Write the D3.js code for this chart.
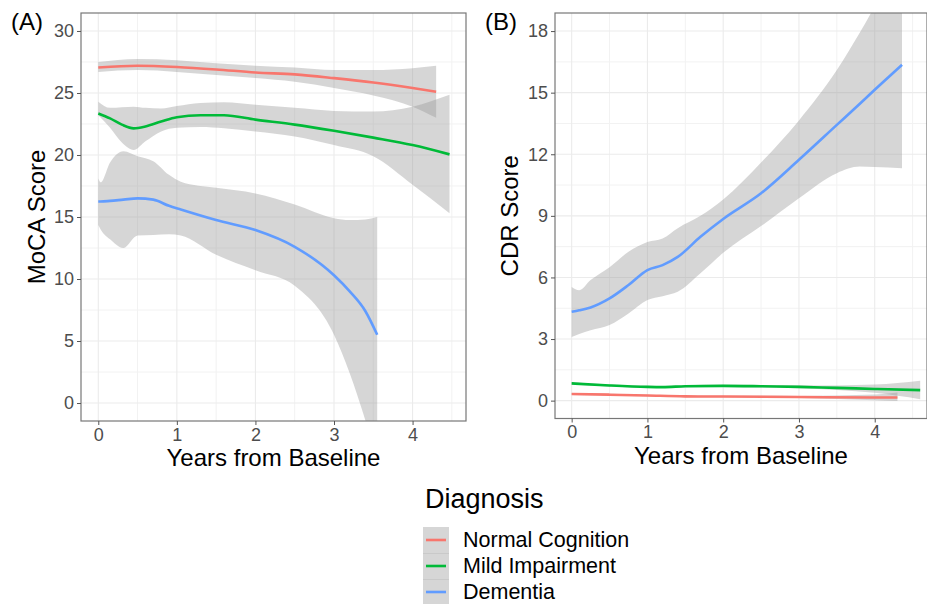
<!DOCTYPE html>
<html>
<head>
<meta charset="utf-8">
<script src="https://cdn.jsdelivr.net/npm/d3@7"></script>
<style>
  body { margin: 0; background: #fff; }
  svg text { font-family: "Liberation Sans", Arial, sans-serif; }
</style>
</head>
<body>
<div id="chart"></div>
<script>
// groups
const diagnoses = ["Normal Cognition", "Mild Impairment", "Dementia"];
const colors = ["#F8766D", "#00BA38", "#619CFF"];

const yearTicks = [0, 1, 2, 3, 4];
const mocaTicks = [0, 5, 10, 15, 20, 25, 30];
const cdrTicks = [0, 3, 6, 9, 12, 15, 18];

// (A) MoCA smooths: fit + confidence band
const mocaNormalX = [0, 0.5, 1, 1.5, 2, 2.5, 3, 3.5, 4, 4.3];
const mocaNormalFit = [27.05, 27.2, 27.1, 26.9, 26.65, 26.5, 26.2, 25.85, 25.4, 25.1];
const mocaNormalLo = [26.7, 26.85, 26.7, 26.45, 26.2, 25.9, 25.4, 24.8, 23.9, 23.0];
const mocaNormalHi = [27.5, 27.75, 27.65, 27.4, 27.2, 27.05, 26.85, 26.85, 27.0, 27.2];

const mocaMildX = [0, 0.15, 0.3, 0.45, 0.6, 0.8, 1, 1.3, 1.6, 2, 2.5, 3, 3.5, 4, 4.47];
const mocaMildFit = [23.35, 22.95, 22.45, 22.15, 22.3, 22.7, 23.05, 23.2, 23.2, 22.85, 22.45, 21.95, 21.4, 20.8, 20.05];
const mocaMildLo = [23.2, 22.2, 21.0, 20.4, 21.1, 21.9, 22.2, 22.25, 22.15, 21.9, 21.5, 20.8, 19.9, 17.6, 15.3];
const mocaMildHi = [24.3, 23.8, 23.85, 23.9, 23.8, 23.75, 23.95, 24.2, 24.25, 24.05, 23.8, 23.55, 23.5, 23.9, 24.85];

const mocaDemX = [0, 0.03, 0.15, 0.32, 0.5, 0.7, 0.9, 1.05, 1.5, 2, 2.5, 3, 3.2, 3.4, 3.55];
const mocaDemFit = [16.25, 16.25, 16.3, 16.4, 16.5, 16.4, 15.9, 15.6, 14.75, 13.95, 12.6, 10.3, 9.0, 7.4, 5.5];
const mocaDemLo = [14.35, 14.0, 13.2, 12.5, 13.5, 13.55, 13.6, 13.5, 11.95, 10.7, 9.45, 5.5, 2.4, -1.4, -4.5];
const mocaDemHi = [18.1, 17.8, 19.4, 20.3, 19.9, 19.5, 18.4, 17.85, 17.35, 16.9, 16.0, 14.9, 14.75, 14.8, 15.0];

// (B) CDR smooths
const cdrNormalX = [0, 0.5, 1, 1.5, 2, 3, 4, 4.3];
const cdrNormalFit = [0.32, 0.29, 0.25, 0.21, 0.2, 0.18, 0.15, 0.15];
const cdrNormalLo = [0.27, 0.25, 0.21, 0.17, 0.16, 0.13, 0.02, -0.02];
const cdrNormalHi = [0.37, 0.33, 0.29, 0.25, 0.24, 0.23, 0.3, 0.4];

const cdrMildX = [0, 0.5, 1, 1.2, 1.5, 2, 2.5, 3, 3.5, 4, 4.6];
const cdrMildFit = [0.84, 0.74, 0.67, 0.66, 0.7, 0.72, 0.7, 0.67, 0.62, 0.57, 0.51];
const cdrMildLo = [0.78, 0.69, 0.62, 0.61, 0.65, 0.67, 0.64, 0.6, 0.52, 0.38, 0.07];
const cdrMildHi = [0.9, 0.79, 0.72, 0.71, 0.75, 0.77, 0.76, 0.75, 0.74, 0.78, 0.97];

const cdrDemX = [0, 0.1, 0.25, 0.5, 0.75, 1, 1.2, 1.4, 1.7, 2, 2.5, 3, 3.5, 3.8, 4, 4.36];
const cdrDemFit = [4.33, 4.4, 4.54, 4.98, 5.63, 6.36, 6.6, 7.0, 7.98, 8.85, 10.1, 11.73, 13.43, 14.45, 15.14, 16.36];
const cdrDemLo = [3.1, 3.25, 3.43, 3.68, 4.25, 4.9, 5.09, 5.3, 6.2, 7.2, 8.5, 9.86, 11.08, 11.4, 11.38, 11.32];
const cdrDemHi = [5.54, 5.38, 5.87, 6.5, 7.25, 7.73, 7.9, 8.4, 9.0, 9.8, 11.6, 13.65, 16.1, 17.9, 19.2, 21.5];

const W = 927, H = 604;
const FONT = "'Liberation Sans', Arial, sans-serif";

const svg = d3.select("#chart").append("svg")
    .attr("width", W)
    .attr("height", H);

function zipSeries(xs, fit, lo, hi) {
    return xs.map((x, i) => ({x: x, fit: fit[i], lo: lo[i], hi: hi[i]}));
}

function drawPanel(cfg) {
    const x = d3.scaleLinear().domain(cfg.xDomain).range([cfg.left, cfg.right]);
    const y = d3.scaleLinear().domain(cfg.yDomain).range([cfg.bottom, cfg.top]);
    const g = svg.append("g");

    // minor + major grid
    const xMinor = yearTicks.map(t => t + 0.5).filter(t => t < cfg.xDomain[1]);
    const yStep = cfg.yTicks[1] - cfg.yTicks[0];
    const yMinor = cfg.yTicks.map(t => t + yStep / 2).filter(t => t < cfg.yDomain[1]);

    g.selectAll(".vminor").data(xMinor).join("line")
        .attr("x1", d => x(d)).attr("x2", d => x(d))
        .attr("y1", cfg.top).attr("y2", cfg.bottom)
        .attr("stroke", "#f2f2f2").attr("stroke-width", 1);
    g.selectAll(".hminor").data(yMinor).join("line")
        .attr("y1", d => y(d)).attr("y2", d => y(d))
        .attr("x1", cfg.left).attr("x2", cfg.right)
        .attr("stroke", "#f2f2f2").attr("stroke-width", 1);
    g.selectAll(".vmajor").data(yearTicks).join("line")
        .attr("x1", d => x(d)).attr("x2", d => x(d))
        .attr("y1", cfg.top).attr("y2", cfg.bottom)
        .attr("stroke", "#ebebeb").attr("stroke-width", 1.1);
    g.selectAll(".hmajor").data(cfg.yTicks).join("line")
        .attr("y1", d => y(d)).attr("y2", d => y(d))
        .attr("x1", cfg.left).attr("x2", cfg.right)
        .attr("stroke", "#ebebeb").attr("stroke-width", 1.1);

    // clip for smooths
    svg.append("clipPath").attr("id", cfg.id + "-clip")
        .append("rect")
        .attr("x", cfg.left).attr("y", cfg.top)
        .attr("width", cfg.right - cfg.left).attr("height", cfg.bottom - cfg.top);

    const plot = g.append("g").attr("clip-path", "url(#" + cfg.id + "-clip)");

    const area = d3.area()
        .x(d => x(d.x))
        .y0(d => y(d.lo))
        .y1(d => y(d.hi))
        .curve(d3.curveMonotoneX);
    const line = d3.line()
        .x(d => x(d.x))
        .y(d => y(d.fit))
        .curve(d3.curveMonotoneX);

    plot.selectAll(".band").data(cfg.series).join("path")
        .attr("d", d => area(d))
        .attr("fill", "#999999")
        .attr("fill-opacity", 0.4);
    plot.selectAll(".fit").data(cfg.series).join("path")
        .attr("d", d => line(d))
        .attr("fill", "none")
        .attr("stroke", (d, i) => colors[i])
        .attr("stroke-width", 2.6);

    // panel border
    g.append("rect")
        .attr("x", cfg.left).attr("y", cfg.top)
        .attr("width", cfg.right - cfg.left).attr("height", cfg.bottom - cfg.top)
        .attr("fill", "none")
        .attr("stroke", "#777")
        .attr("stroke-width", 1.2);

    // axes
    const xAxis = g.append("g")
        .attr("transform", "translate(0," + cfg.bottom + ")")
        .call(d3.axisBottom(x).tickValues(yearTicks).tickFormat(d3.format("d"))
            .tickSize(4).tickPadding(3));
    const yAxis = g.append("g")
        .attr("transform", "translate(" + cfg.left + ",0)")
        .call(d3.axisLeft(y).tickValues(cfg.yTicks).tickFormat(d3.format("d"))
            .tickSize(4).tickPadding(3));
    [xAxis, yAxis].forEach(a => {
        a.select(".domain").remove();
        a.selectAll(".tick line").attr("stroke", "#555");
        a.selectAll(".tick text")
            .attr("fill", "#4d4d4d")
            .style("font-family", FONT)
            .style("font-size", "18px");
    });

    // titles
    g.append("text")
        .attr("x", (cfg.left + cfg.right) / 2)
        .attr("y", cfg.bottom + 45)
        .attr("text-anchor", "middle")
        .style("font-size", "24px")
        .attr("fill", "#000")
        .text("Years from Baseline");
    g.append("text")
        .attr("transform", "translate(" + cfg.yTitleX + "," + ((cfg.top + cfg.bottom) / 2) + ") rotate(-90)")
        .attr("text-anchor", "middle")
        .attr("dy", "0.35em")
        .style("font-size", "24px")
        .attr("fill", "#000")
        .text(cfg.yTitle);
    g.append("text")
        .attr("x", cfg.tagX)
        .attr("y", 30)
        .style("font-size", "24px")
        .attr("fill", "#000")
        .text(cfg.tag);
}

drawPanel({
    id: "moca",
    tag: "(A)", tagX: 11,
    left: 81, right: 466, top: 13, bottom: 421,
    xDomain: [-0.22, 4.68], yDomain: [-1.45, 31.45],
    yTicks: mocaTicks,
    yTitle: "MoCA Score", yTitleX: 37,
    series: [
        zipSeries(mocaNormalX, mocaNormalFit, mocaNormalLo, mocaNormalHi),
        zipSeries(mocaMildX, mocaMildFit, mocaMildLo, mocaMildHi),
        zipSeries(mocaDemX, mocaDemFit, mocaDemLo, mocaDemHi)
    ]
});

drawPanel({
    id: "cdr",
    tag: "(B)", tagX: 485,
    left: 555, right: 927, top: 13, bottom: 418.5,
    xDomain: [-0.22, 4.69], yDomain: [-0.87, 18.88],
    yTicks: cdrTicks,
    yTitle: "CDR Score", yTitleX: 510,
    series: [
        zipSeries(cdrNormalX, cdrNormalFit, cdrNormalLo, cdrNormalHi),
        zipSeries(cdrMildX, cdrMildFit, cdrMildLo, cdrMildHi),
        zipSeries(cdrDemX, cdrDemFit, cdrDemLo, cdrDemHi)
    ]
});

// legend
const legend = svg.append("g").attr("transform", "translate(423,0)");
legend.append("text")
    .attr("x", 2).attr("y", 508)
    .style("font-size", "27px")
    .attr("fill", "#000")
    .text("Diagnosis");

const rowY = d3.scalePoint().domain(diagnoses).range([540, 592]);
legend.selectAll(".key").data(diagnoses).join("rect")
    .attr("x", 0).attr("y", d => rowY(d) - 13)
    .attr("width", 26).attr("height", 26.5)
    .attr("fill", "#999999").attr("fill-opacity", 0.4);
legend.selectAll(".keyline").data(diagnoses).join("line")
    .attr("x1", 3).attr("x2", 23)
    .attr("y1", d => rowY(d)).attr("y2", d => rowY(d))
    .attr("stroke", (d, i) => colors[i])
    .attr("stroke-width", 2.6);
legend.selectAll(".label").data(diagnoses).join("text")
    .attr("x", 40).attr("y", d => rowY(d) + 7)
    .style("font-size", "21.5px")
    .attr("fill", "#000")
    .text(d => d);
</script>
</body>
</html>
